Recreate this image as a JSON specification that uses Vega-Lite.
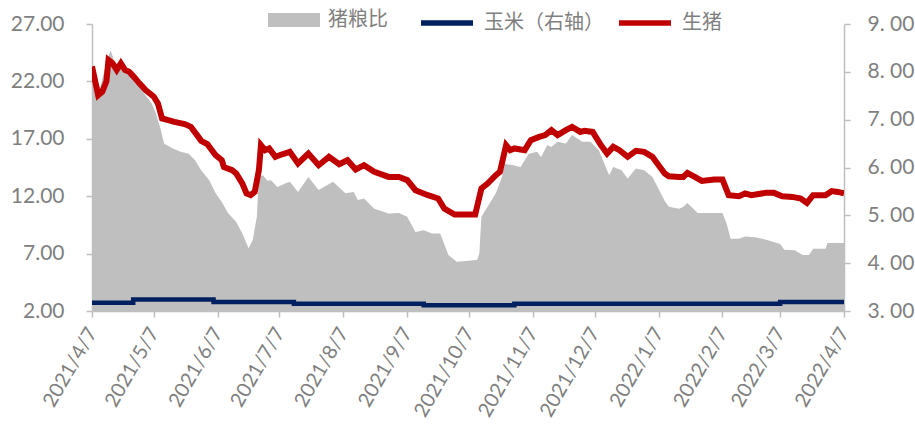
{
  "$schema": "https://vega.github.io/schema/vega-lite/v6.json",
  "width": 752,
  "height": 287,
  "autosize": "none",
  "padding": {"left": 92, "top": 24, "right": 71, "bottom": 115},
  "config": {
    "view": {"stroke": null},
    "axis": {
      "labelFont": "Lato",
      "labelColor": "#7F7F7F",
      "labelFontSize": 21,
      "domainColor": "#BFBFBF",
      "domainWidth": 1.5,
      "tickColor": "#BFBFBF",
      "tickWidth": 1.5,
      "tickSize": 6,
      "grid": false,
      "title": null,
      "labelOverlap": false,
      "labelFlush": false,
      "labelBound": false
    },
    "legend": {
      "orient": "none",
      "direction": "horizontal",
      "title": null,
      "labelFont": "Noto Sans CJK SC",
      "labelFontSize": 20,
      "labelColor": "#7F7F7F",
      "padding": 0,
      "symbolSize": 2704,
      "symbolOpacity": 1
    }
  },
  "datasets": {
    "ratio": [
      {"date": "2021-04-07", "v": 8.45}, {"date": "2021-04-08", "v": 7.93}, {"date": "2021-04-11", "v": 7.66},
      {"date": "2021-04-13", "v": 8.04}, {"date": "2021-04-16", "v": 8.45}, {"date": "2021-04-18", "v": 8.2},
      {"date": "2021-04-20", "v": 8.08}, {"date": "2021-04-25", "v": 7.93}, {"date": "2021-04-30", "v": 7.68},
      {"date": "2021-05-06", "v": 7.34}, {"date": "2021-05-08", "v": 7.13}, {"date": "2021-05-10", "v": 6.85},
      {"date": "2021-05-12", "v": 6.5}, {"date": "2021-05-16", "v": 6.4}, {"date": "2021-05-20", "v": 6.33},
      {"date": "2021-05-24", "v": 6.29}, {"date": "2021-05-27", "v": 6.15}, {"date": "2021-05-30", "v": 5.94},
      {"date": "2021-06-03", "v": 5.73}, {"date": "2021-06-06", "v": 5.46}, {"date": "2021-06-09", "v": 5.28},
      {"date": "2021-06-12", "v": 5.05}, {"date": "2021-06-16", "v": 4.86}, {"date": "2021-06-19", "v": 4.62},
      {"date": "2021-06-22", "v": 4.31}, {"date": "2021-06-24", "v": 4.48}, {"date": "2021-06-26", "v": 4.97},
      {"date": "2021-06-27", "v": 5.8}, {"date": "2021-06-29", "v": 5.84}, {"date": "2021-07-01", "v": 5.73},
      {"date": "2021-07-03", "v": 5.73}, {"date": "2021-07-06", "v": 5.59}, {"date": "2021-07-10", "v": 5.67},
      {"date": "2021-07-12", "v": 5.7}, {"date": "2021-07-16", "v": 5.49}, {"date": "2021-07-21", "v": 5.8},
      {"date": "2021-07-26", "v": 5.53}, {"date": "2021-08-02", "v": 5.7}, {"date": "2021-08-08", "v": 5.46},
      {"date": "2021-08-12", "v": 5.49}, {"date": "2021-08-14", "v": 5.32}, {"date": "2021-08-17", "v": 5.35},
      {"date": "2021-08-22", "v": 5.14}, {"date": "2021-08-29", "v": 5.04}, {"date": "2021-09-03", "v": 5.05},
      {"date": "2021-09-07", "v": 4.97}, {"date": "2021-09-11", "v": 4.65}, {"date": "2021-09-15", "v": 4.69},
      {"date": "2021-09-19", "v": 4.62}, {"date": "2021-09-23", "v": 4.62}, {"date": "2021-09-27", "v": 4.17},
      {"date": "2021-10-01", "v": 4.03}, {"date": "2021-10-07", "v": 4.05}, {"date": "2021-10-11", "v": 4.07},
      {"date": "2021-10-12", "v": 4.2}, {"date": "2021-10-13", "v": 4.97}, {"date": "2021-10-16", "v": 5.18},
      {"date": "2021-10-20", "v": 5.46}, {"date": "2021-10-23", "v": 5.8}, {"date": "2021-10-24", "v": 6.08},
      {"date": "2021-10-28", "v": 6.05}, {"date": "2021-11-01", "v": 6.01}, {"date": "2021-11-05", "v": 6.29},
      {"date": "2021-11-09", "v": 6.33}, {"date": "2021-11-11", "v": 6.22}, {"date": "2021-11-14", "v": 6.47},
      {"date": "2021-11-16", "v": 6.43}, {"date": "2021-11-19", "v": 6.54}, {"date": "2021-11-23", "v": 6.5},
      {"date": "2021-11-26", "v": 6.68}, {"date": "2021-12-01", "v": 6.54}, {"date": "2021-12-05", "v": 6.54},
      {"date": "2021-12-09", "v": 6.36}, {"date": "2021-12-14", "v": 5.84}, {"date": "2021-12-16", "v": 6.01},
      {"date": "2021-12-20", "v": 5.94}, {"date": "2021-12-23", "v": 5.77}, {"date": "2021-12-27", "v": 5.98},
      {"date": "2021-12-31", "v": 5.94}, {"date": "2022-01-04", "v": 5.8}, {"date": "2022-01-07", "v": 5.55},
      {"date": "2022-01-10", "v": 5.3}, {"date": "2022-01-12", "v": 5.18}, {"date": "2022-01-17", "v": 5.14},
      {"date": "2022-01-19", "v": 5.18}, {"date": "2022-01-21", "v": 5.26}, {"date": "2022-01-26", "v": 5.05},
      {"date": "2022-02-07", "v": 5.05}, {"date": "2022-02-09", "v": 4.83}, {"date": "2022-02-11", "v": 4.51},
      {"date": "2022-02-15", "v": 4.51}, {"date": "2022-02-18", "v": 4.56}, {"date": "2022-02-23", "v": 4.54},
      {"date": "2022-03-01", "v": 4.48}, {"date": "2022-03-07", "v": 4.4}, {"date": "2022-03-09", "v": 4.28},
      {"date": "2022-03-14", "v": 4.27}, {"date": "2022-03-18", "v": 4.17}, {"date": "2022-03-21", "v": 4.17},
      {"date": "2022-03-23", "v": 4.3}, {"date": "2022-03-29", "v": 4.3}, {"date": "2022-03-30", "v": 4.42},
      {"date": "2022-04-07", "v": 4.42}
    ],
    "corn": [
      {"date": "2021-04-07", "v": 3.17}, {"date": "2021-04-27", "v": 3.24}, {"date": "2021-06-05", "v": 3.19},
      {"date": "2021-07-14", "v": 3.15}, {"date": "2021-09-15", "v": 3.12}, {"date": "2021-10-29", "v": 3.15},
      {"date": "2022-03-07", "v": 3.19}, {"date": "2022-04-07", "v": 3.19}
    ],
    "pig": [
      {"date": "2021-04-07", "v": 23.3}, {"date": "2021-04-10", "v": 20.8}, {"date": "2021-04-12", "v": 21.1},
      {"date": "2021-04-14", "v": 22.0}, {"date": "2021-04-15", "v": 23.86}, {"date": "2021-04-17", "v": 23.57},
      {"date": "2021-04-19", "v": 23.0}, {"date": "2021-04-21", "v": 23.57}, {"date": "2021-04-23", "v": 23.0},
      {"date": "2021-04-25", "v": 22.84}, {"date": "2021-04-27", "v": 22.46}, {"date": "2021-04-30", "v": 21.83},
      {"date": "2021-05-03", "v": 21.24}, {"date": "2021-05-07", "v": 20.66}, {"date": "2021-05-09", "v": 20.08},
      {"date": "2021-05-11", "v": 18.77}, {"date": "2021-05-14", "v": 18.63}, {"date": "2021-05-17", "v": 18.48},
      {"date": "2021-05-22", "v": 18.28}, {"date": "2021-05-25", "v": 18.04}, {"date": "2021-05-28", "v": 17.32},
      {"date": "2021-05-30", "v": 16.82}, {"date": "2021-06-02", "v": 16.53}, {"date": "2021-06-06", "v": 15.57},
      {"date": "2021-06-09", "v": 15.14}, {"date": "2021-06-10", "v": 14.55}, {"date": "2021-06-14", "v": 14.27},
      {"date": "2021-06-16", "v": 13.98}, {"date": "2021-06-19", "v": 13.1}, {"date": "2021-06-21", "v": 12.24},
      {"date": "2021-06-23", "v": 12.09}, {"date": "2021-06-25", "v": 12.37}, {"date": "2021-06-27", "v": 14.27},
      {"date": "2021-06-28", "v": 16.45}, {"date": "2021-06-30", "v": 16.01}, {"date": "2021-07-02", "v": 16.16},
      {"date": "2021-07-05", "v": 15.43}, {"date": "2021-07-07", "v": 15.57}, {"date": "2021-07-12", "v": 15.86},
      {"date": "2021-07-16", "v": 14.85}, {"date": "2021-07-21", "v": 15.72}, {"date": "2021-07-26", "v": 14.7},
      {"date": "2021-07-31", "v": 15.43}, {"date": "2021-08-05", "v": 14.79}, {"date": "2021-08-09", "v": 15.14},
      {"date": "2021-08-13", "v": 14.33}, {"date": "2021-08-17", "v": 14.7}, {"date": "2021-08-22", "v": 14.12},
      {"date": "2021-08-29", "v": 13.68}, {"date": "2021-09-03", "v": 13.68}, {"date": "2021-09-07", "v": 13.4},
      {"date": "2021-09-11", "v": 12.52}, {"date": "2021-09-17", "v": 12.09}, {"date": "2021-09-22", "v": 11.8},
      {"date": "2021-09-25", "v": 10.93}, {"date": "2021-09-30", "v": 10.4}, {"date": "2021-10-10", "v": 10.4},
      {"date": "2021-10-13", "v": 12.67}, {"date": "2021-10-16", "v": 13.1}, {"date": "2021-10-20", "v": 13.83},
      {"date": "2021-10-22", "v": 14.12}, {"date": "2021-10-25", "v": 16.45}, {"date": "2021-10-27", "v": 16.01},
      {"date": "2021-10-29", "v": 16.16}, {"date": "2021-11-03", "v": 16.01}, {"date": "2021-11-06", "v": 16.88},
      {"date": "2021-11-10", "v": 17.17}, {"date": "2021-11-13", "v": 17.32}, {"date": "2021-11-16", "v": 17.76},
      {"date": "2021-11-19", "v": 17.32}, {"date": "2021-11-23", "v": 17.76}, {"date": "2021-11-26", "v": 18.04},
      {"date": "2021-11-30", "v": 17.6}, {"date": "2021-12-02", "v": 17.69}, {"date": "2021-12-06", "v": 17.6},
      {"date": "2021-12-10", "v": 16.45}, {"date": "2021-12-13", "v": 15.72}, {"date": "2021-12-16", "v": 16.3},
      {"date": "2021-12-19", "v": 16.01}, {"date": "2021-12-23", "v": 15.43}, {"date": "2021-12-27", "v": 15.95},
      {"date": "2021-12-31", "v": 15.86}, {"date": "2022-01-04", "v": 15.43}, {"date": "2022-01-07", "v": 14.7},
      {"date": "2022-01-10", "v": 13.98}, {"date": "2022-01-12", "v": 13.74}, {"date": "2022-01-17", "v": 13.68},
      {"date": "2022-01-19", "v": 13.68}, {"date": "2022-01-21", "v": 14.03}, {"date": "2022-01-25", "v": 13.63},
      {"date": "2022-01-28", "v": 13.33}, {"date": "2022-02-03", "v": 13.46}, {"date": "2022-02-07", "v": 13.46},
      {"date": "2022-02-10", "v": 12.09}, {"date": "2022-02-15", "v": 12.0}, {"date": "2022-02-18", "v": 12.24},
      {"date": "2022-02-21", "v": 12.09}, {"date": "2022-02-28", "v": 12.29}, {"date": "2022-03-04", "v": 12.29},
      {"date": "2022-03-08", "v": 12.0}, {"date": "2022-03-13", "v": 11.94}, {"date": "2022-03-17", "v": 11.8},
      {"date": "2022-03-20", "v": 11.42}, {"date": "2022-03-23", "v": 12.09}, {"date": "2022-03-29", "v": 12.09},
      {"date": "2022-04-01", "v": 12.44}, {"date": "2022-04-04", "v": 12.37}, {"date": "2022-04-07", "v": 12.24}
    ]
  },
  "layer": [
    {
      "data": {"name": "ratio"},
      "mark": {"type": "area", "opacity": 1, "clip": true},
      "encoding": {
        "x": {
          "field": "date", "type": "temporal",
          "scale": {"type": "utc", "domain": [{"year": 2021, "month": 4, "date": 7, "utc": true}, {"year": 2022, "month": 4, "date": 7, "utc": true}]},
          "axis": {
            "orient": "bottom",
            "values": [
              {"year": 2021, "month": 4, "date": 7, "utc": true}, {"year": 2021, "month": 5, "date": 7, "utc": true},
              {"year": 2021, "month": 6, "date": 7, "utc": true}, {"year": 2021, "month": 7, "date": 7, "utc": true},
              {"year": 2021, "month": 8, "date": 7, "utc": true}, {"year": 2021, "month": 9, "date": 7, "utc": true},
              {"year": 2021, "month": 10, "date": 7, "utc": true}, {"year": 2021, "month": 11, "date": 7, "utc": true},
              {"year": 2021, "month": 12, "date": 7, "utc": true}, {"year": 2022, "month": 1, "date": 7, "utc": true},
              {"year": 2022, "month": 2, "date": 7, "utc": true}, {"year": 2022, "month": 3, "date": 7, "utc": true},
              {"year": 2022, "month": 4, "date": 7, "utc": true}
            ],
            "format": "%Y/%-m/%-d",
            "labelAngle": -60,
            "labelAlign": "right",
            "labelBaseline": "middle",
            "labelFontSize": 20,
            "labelPadding": 12
          }
        },
        "y": {
          "field": "v", "type": "quantitative",
          "scale": {"domain": [3, 9], "zero": false, "nice": false},
          "axis": {
            "orient": "right",
            "values": [3, 4, 5, 6, 7, 8, 9],
            "labelExpr": "replace(format(datum.value, '.2f'), '.', '. ')",
            "labelPadding": 17
          }
        },
        "y2": {"datum": 3},
        "fill": {
          "datum": "猪粮比",
          "type": "nominal",
          "scale": {"domain": ["猪粮比"], "range": ["#BFBFBF"]},
          "legend": {
            "legendX": 176,
            "legendY": -30,
            "symbolType": "M-1,-0.27H1V0.27H-1Z",
            "symbolStrokeWidth": 0,
            "labelOffset": 8
          }
        }
      }
    },
    {
      "data": {"name": "corn"},
      "mark": {"type": "line", "strokeWidth": 4.5, "interpolate": "step-after", "clip": true},
      "encoding": {
        "x": {"field": "date", "type": "temporal"},
        "y": {"field": "v", "type": "quantitative", "scale": {"domain": [3, 9], "zero": false, "nice": false}, "axis": null},
        "color": {
          "datum": "玉米（右轴）",
          "type": "nominal",
          "scale": {"domain": ["玉米（右轴）", "生猪"], "range": ["#002060", "#C00000"]},
          "legend": {
            "legendX": 326,
            "legendY": -30,
            "symbolType": "stroke",
            "symbolStrokeWidth": 5.5,
            "labelOffset": 8,
            "columnPadding": 4
          }
        }
      }
    },
    {
      "data": {"name": "pig"},
      "mark": {"type": "line", "strokeWidth": 6, "clip": true},
      "encoding": {
        "x": {"field": "date", "type": "temporal"},
        "y": {
          "field": "v", "type": "quantitative",
          "scale": {"domain": [2, 27], "zero": false, "nice": false},
          "axis": {"orient": "left", "values": [2, 7, 12, 17, 22, 27], "format": ".2f", "labelPadding": 22}
        },
        "color": {"datum": "生猪", "type": "nominal"}
      }
    }
  ],
  "resolve": {"scale": {"y": "independent"}, "axis": {"y": "independent"}}
}
